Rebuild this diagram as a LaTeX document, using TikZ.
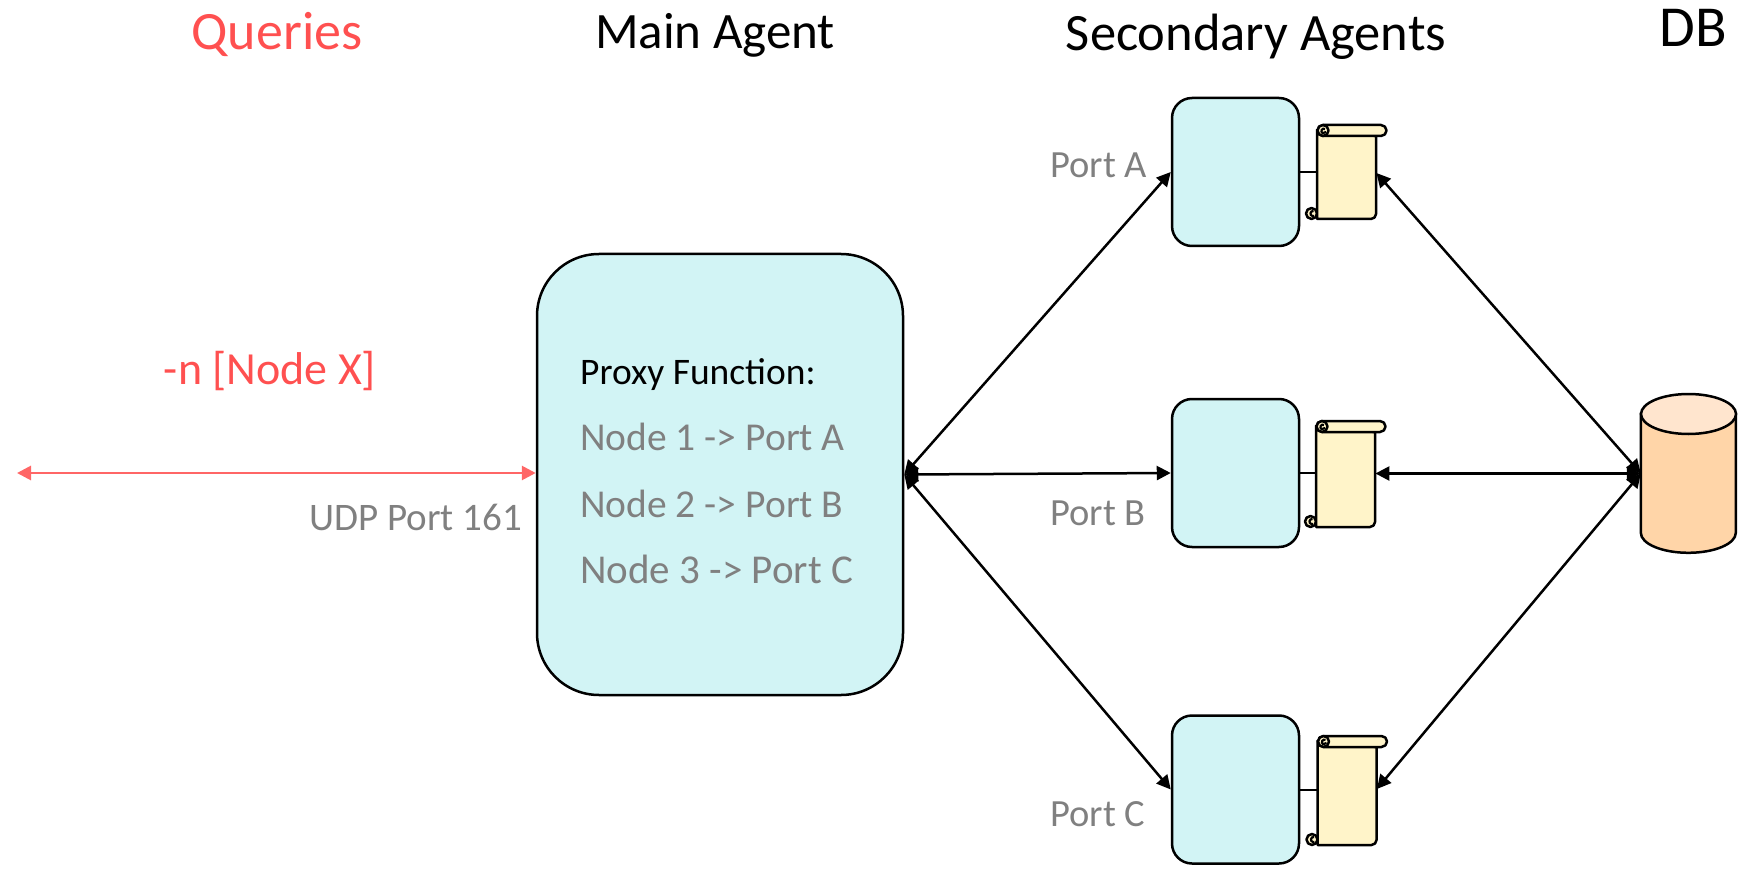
\documentclass[tikz,border=0pt]{standalone}
\usepackage{fontspec}
\setmainfont{Carlito}
\usetikzlibrary{arrows.meta}
\definecolor{boxfill}{HTML}{D2F4F5}
\definecolor{scrollfill}{HTML}{FFF4C9}
\definecolor{dbbody}{HTML}{FFD5A8}
\definecolor{dbtop}{HTML}{FFE5CE}
\definecolor{redline}{HTML}{FF6666}
\definecolor{redtext}{HTML}{FF5050}
\definecolor{graytext}{HTML}{808080}
\tikzset{
  agentbox/.style={draw=black,line width=2.5pt,fill=boxfill,rounded corners=20pt,minimum width=127pt,minimum height=148pt,inner sep=0pt},
  mainbox/.style={agentbox,rounded corners=62pt,minimum width=366pt,minimum height=441pt},
  link/.style={line width=2.5pt,black},
  dbl/.style={line width=2.5pt,black,{Triangle[length=14pt,width=14pt]}-{Triangle[length=14pt,width=14pt]}},
  dblred/.style={line width=2.8pt,redline,{Triangle[length=14pt,width=14pt]}-{Triangle[length=14pt,width=14pt]}},
  title/.style={anchor=base,inner sep=0pt},
  port/.style={font=\fontsize{38.5}{38.5}\selectfont,text=graytext,anchor=base west,inner sep=0pt},
  proxy/.style={font=\fontsize{37.5}{37.5}\selectfont,anchor=base west,inner sep=0pt},
  scrollline/.style={line width=2.5pt,draw=black,fill=scrollfill,line join=round},
  pics/scroll/.style={code={
    \node[minimum width=59pt,minimum height=#1 pt,inner sep=0pt,anchor=north west] (-body) at (0,0) {};
    \path[scrollline] (-5.5,#1-5.5) circle[radius=5.5pt];
    \path[scrollline] (0,5) -- (0,#1) -- (54,#1) arc[start angle=-90,end angle=0,radius=5pt] -- (59,11) -- cycle;
    \draw[line width=2.2pt] (-3.5,#1-8) arc[start angle=80,end angle=290,radius=2.6pt];
    \path[scrollline] (6,0) -- (64,0) arc[start angle=90,end angle=-90,radius=5.5pt] -- (6,11) arc[start angle=-90,end angle=-270,radius=5.5pt] -- cycle;
    \path[scrollline] (6,0) arc[start angle=90,end angle=-90,radius=5.5pt] arc[start angle=-90,end angle=-270,radius=5.5pt] -- cycle;
    \draw[line width=2.2pt] (8,4) arc[start angle=60,end angle=240,radius=2.4pt] -- (9,7);
  }}
}
\begin{document}
\begin{tikzpicture}[x=1pt,y=-1pt]
\useasboundingbox (0,0) rectangle (1744,874);
% title labels
\node[title,text=redtext,font=\fontsize{54}{54}\selectfont] (tq) at (277,50) {Queries};
\node[title,font=\fontsize{51}{51}\selectfont] (tm) at (715,49) {Main Agent};
\node[title,font=\fontsize{52.5}{52.5}\selectfont] (ts) at (1256,51) {Secondary Agents};
\node[title,font=\fontsize{58}{58}\selectfont] (td) at (1693,47) {DB};
% agents
\node[mainbox] (main) at (720,474.5) {};
\node[agentbox] (a) at (1235.5,172) {};
\node[agentbox] (b) at (1235.5,473) {};
\node[agentbox] (c) at (1235.5,789.5) {};
% links to scrolls
\coordinate (lc) at (1318,790);
\pic (sa) at (1317,125) {scroll=94};
\pic (sb) at (1316,421) {scroll=106};
\pic (sc) at (1317.5,736) {scroll=109};
\draw[link] (a.east) -- (sa-body.west |- a.east);
\draw[link] (b.east) -- (sb-body.west |- b.east);
\draw[link] (c.east |- lc) -- (sc-body.west |- lc);
% database
\node[minimum width=95pt,minimum height=159pt,inner sep=0pt] (db) at (1688.5,473.5) {};
\path[draw=black,line width=2.5pt,fill=dbbody] (db.north west) ++(0,20) -- ++(0,119) arc[x radius=47.5pt,y radius=20pt,start angle=180,end angle=360] -- ++(0,-119) -- cycle;
\path[draw=black,line width=2.5pt,fill=dbtop] (1688.5,414) ellipse[x radius=47.5pt,y radius=20pt];
% connectors
\coordinate (ta) at (0,173);
\coordinate (tc) at (0,789);
\draw[dbl] (main.east) -- (a.west);
\draw[dbl] (main.east) -- (b.west);
\draw[dbl] (main.east) -- (c.west);
\draw[dbl] (db.west) -- (sa-body.east |- ta);
\draw[dbl] (db.west) -- (sb-body.east |- db.west);
\draw[dbl] (db.west) -- (sc-body.east |- tc);
\coordinate (qfree) at (17,473);
\draw[dblred] (qfree) -- (main.west |- qfree);
% text labels
\node[port] (pa) at (1050,178) {Port A};
\node[port] (pb) at (1050,525) {Port B};
\node[port] (pc) at (1050,826) {Port C};
\node[port,font=\fontsize{39}{39}\selectfont] (udp) at (309,530) {UDP Port 161};
\node[proxy,text=redtext,anchor=base,font=\fontsize{46}{46}\selectfont] (nx) at (270,384) {-n [Node X]};
\node[proxy] (pf) at (580,384) {Proxy Function:};
\node[port,font=\fontsize{39.5}{39.5}\selectfont] (n1) at (580,450) {Node 1 -> Port A};
\node[port,font=\fontsize{39.5}{39.5}\selectfont] (n2) at (580,517) {Node 2 -> Port B};
\node[port,font=\fontsize{41}{41}\selectfont] (n3) at (580,583) {Node 3 -> Port C};
\end{tikzpicture}
\end{document}
